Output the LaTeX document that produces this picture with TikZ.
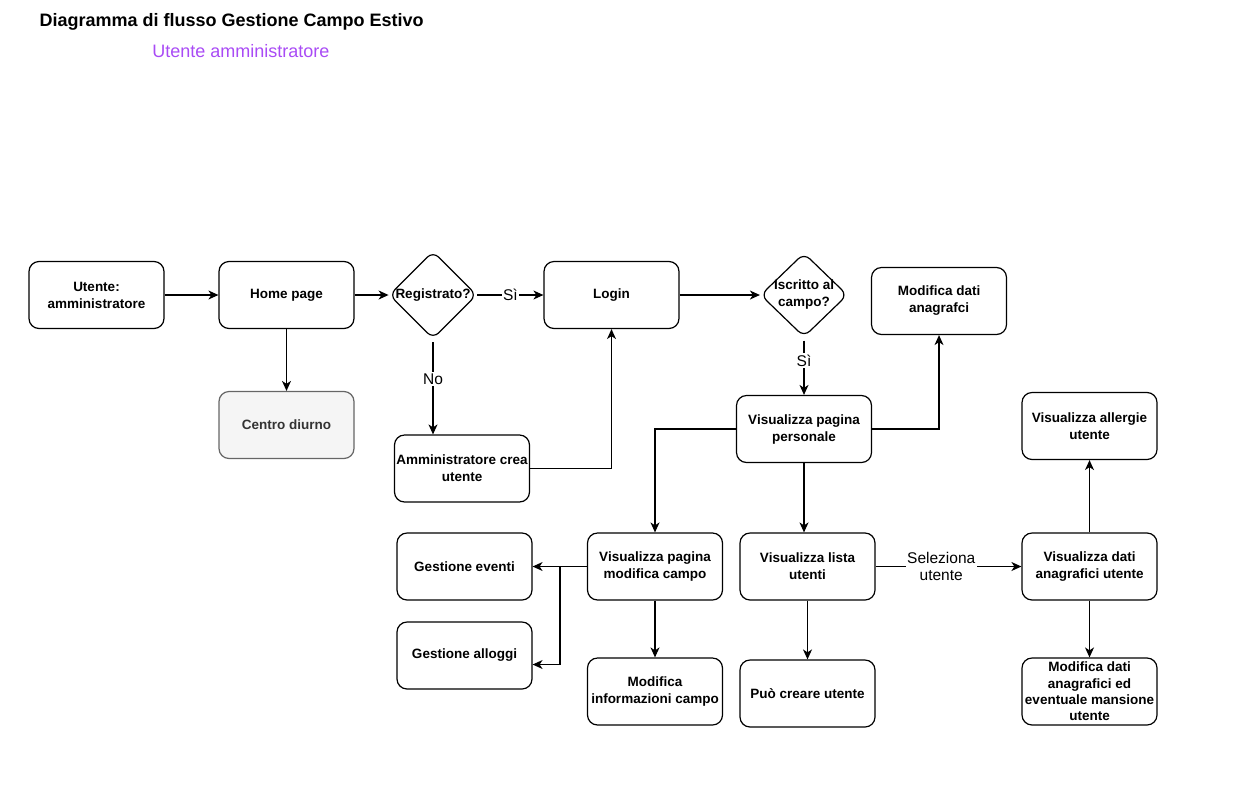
\documentclass[tikz,border=0pt]{standalone}
\usepackage{fontspec}
\setmainfont{Liberation Sans}
\usepackage{tikz}
\usetikzlibrary{shapes.geometric,arrows.meta}

\definecolor{viola}{HTML}{A94BF5}
\definecolor{grigiofondo}{HTML}{F5F5F5}
\definecolor{grigiobordo}{HTML}{666666}
\definecolor{grigiotesto}{HTML}{333333}

\begin{document}
\begin{tikzpicture}[x=1pt, y=-1pt, line width=1.2pt,
    box/.style = {draw, rounded corners=10pt, minimum width=135pt, minimum height=67pt, align=center, inner sep=1pt, font=\fontsize{13.5}{17}\selectfont\bfseries},
    grey/.style = {box, fill=grigiofondo, draw=grigiobordo, text=grigiotesto},
    decision/.style = {draw, diamond, rounded corners=8pt, aspect=1, minimum width=87pt, minimum height=84pt, inner sep=0pt, align=center, font=\fontsize{13.5}{17}\selectfont\bfseries},
    lab/.style = {fill=white, inner sep=1.5pt, align=center, font=\fontsize{15.5}{17}\selectfont},
    >={Stealth[length=10pt, width=9pt, inset=3pt]}]

    \useasboundingbox (0,0) rectangle (1246,793);

    % titles
    \node[anchor=base west, inner sep=0pt, font=\fontsize{18}{20}\selectfont\bfseries] (titolo) at (39,26) {Diagramma di flusso Gestione Campo Estivo};
    \node[text=viola, inner sep=0pt, font=\fontsize{18}{20}\selectfont] (sottotitolo) at (241,51) {Utente amministratore};

    % first row
    \node[box] (utente) at (96.5,295) {Utente:\\amministratore};
    \node[box] (home) at (286.5,295) {Home page};
    \node[decision] (registrato) at (433,295) {Registrato?};
    \node[box] (login) at (611.5,295) {Login};
    \node[decision, inner sep=-2pt] (iscritto) at (804,295) {Iscritto al\\campo?};
    \node[box] (anagrafci) at (939,301) {Modifica dati\\anagrafci};

    % second row
    \node[grey] (centro) at (286.5,425) {Centro diurno};
    \node[box] (crea) at (462,468.5) {Amministratore crea\\utente};
    \node[box] (personale) at (804,429) {Visualizza pagina\\personale};
    \node[box] (allergie) at (1089.5,426) {Visualizza allergie\\utente};

    % third row
    \node[box] (eventi) at (464.5,566.5) {Gestione eventi};
    \node[box] (modcampo) at (655,566.5) {Visualizza pagina\\modifica campo};
    \node[box] (lista) at (807.5,566.5) {Visualizza lista\\utenti};
    \node[box] (datiutente) at (1089.5,566.5) {Visualizza dati\\anagrafici utente};

    % fourth row
    \node[box] (alloggi) at (464.5,655.5) {Gestione alloggi};
    \node[box] (infocampo) at (655,691.5) {Modifica\\informazioni campo};
    \node[box] (creare) at (807.5,693.5) {Può creare utente};
    \node[box, font=\fontsize{13.5}{16.4}\selectfont\bfseries] (mansione) at (1089.5,691.5) {Modifica dati\\anagrafici ed\\eventuale mansione\\utente};

    \coordinate (bivio) at (560,566.5);

    \draw[->] (utente) -- (home);
    \draw[->] (home) -- (registrato);
    \draw[->] (home) -- (centro);
    \draw[->] (registrato) -- node[lab] {Sì} (login);
    \draw[->] ([yshift=-3pt]registrato.south) -- node[lab, pos=0.4] {No} (crea.north -| registrato.south);
    \draw[->] (crea.east) -| (login.south);
    \draw[->] (login) -- (iscritto);
    \draw[->] ([yshift=-3pt]iscritto.south) -- node[lab, pos=0.37] {Sì} (personale.north);
    \draw[->] (personale.east) -| (anagrafci.south);
    \draw[->] (personale.west) -| (modcampo.north);
    \draw[->] (personale.south) -- (personale.south |- lista.north);
    \draw[->] (modcampo.west) -- (eventi.east);
    \draw[->] (bivio) |- ([yshift=-9pt]alloggi.east);
    \draw[->] (modcampo) -- (infocampo);
    \draw[->] (lista) -- (creare);
    \draw[->] (lista) -- node[lab, pos=0.45] {Seleziona\\utente} (datiutente);
    \draw[->] (datiutente) -- (allergie);
    \draw[->] (datiutente) -- (mansione);

\end{tikzpicture}
\end{document}
